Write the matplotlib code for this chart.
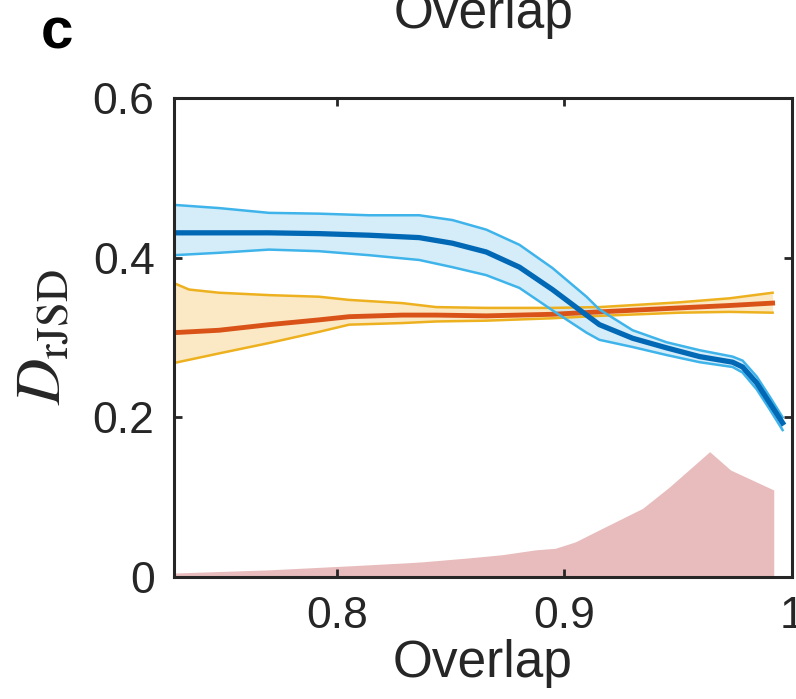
import numpy as np
import matplotlib
matplotlib.use('Agg')
import matplotlib.pyplot as plt

plt.rcParams['font.family'] = ['Liberation Sans', 'DejaVu Sans']
plt.rcParams['mathtext.fontset'] = 'stix'

# blue curve (mean and band)
blue_x = [0.7282, 0.748, 0.770, 0.792, 0.814, 0.8361, 0.8507, 0.8656, 0.8802,
          0.8947, 0.9097, 0.9154, 0.9300, 0.9449, 0.9595, 0.9740, 0.9784,
          0.9846, 0.9903, 0.9960]
blue_mid = [0.431, 0.431, 0.431, 0.430, 0.428, 0.425, 0.418, 0.407, 0.388,
            0.360, 0.328, 0.316, 0.299, 0.287, 0.276, 0.269, 0.263,
            0.243, 0.218, 0.193]
blue_hi = [0.466, 0.462, 0.456, 0.455, 0.453, 0.453, 0.447, 0.435, 0.416,
           0.387, 0.351, 0.335, 0.309, 0.294, 0.284, 0.276, 0.271,
           0.251, 0.226, 0.200]
blue_lo = [0.403, 0.406, 0.410, 0.408, 0.403, 0.397, 0.388, 0.378, 0.362,
           0.334, 0.306, 0.297, 0.288, 0.278, 0.269, 0.263, 0.256,
           0.235, 0.210, 0.184]

# orange curve (mean and band)
org_x = [0.7282, 0.7348, 0.748, 0.770, 0.792, 0.8053, 0.8286, 0.8436, 0.8656,
         0.8947, 0.9154, 0.9507, 0.9727, 0.9916]
org_mid = [0.306, 0.307, 0.309, 0.316, 0.322, 0.326, 0.328, 0.328, 0.327,
           0.329, 0.332, 0.337, 0.340, 0.343]
org_hi = [0.368, 0.360, 0.356, 0.353, 0.351, 0.347, 0.343, 0.338, 0.337,
          0.337, 0.338, 0.344, 0.349, 0.356]
org_lo = [0.268, 0.272, 0.280, 0.293, 0.307, 0.316, 0.318, 0.320, 0.321,
          0.324, 0.327, 0.331, 0.332, 0.331]

# overlap distribution (shaded area at bottom)
dist_x = [0.7282, 0.770, 0.8053, 0.8286, 0.8374, 0.8581, 0.8727, 0.8872, 0.8960,
          0.9048, 0.9167, 0.9344, 0.9463, 0.9639, 0.9731, 0.9921]
dist_y = [0.005, 0.009, 0.014, 0.0175, 0.019, 0.024, 0.028, 0.034, 0.036,
          0.044, 0.061, 0.086, 0.113, 0.157, 0.134, 0.109]

fig = plt.figure(figsize=(7.96, 6.99), dpi=100)
ax = fig.add_axes([0.2186, 0.1745, 0.776, 0.6855])

ax.fill_between(dist_x, 0, dist_y, color='#e8bcbd', lw=0)

ax.fill_between(org_x, org_lo, org_hi, color='#fbe8c4', lw=0)
ax.plot(org_x, org_hi, color='#edb120', lw=1.8)
ax.plot(org_x, org_lo, color='#edb120', lw=1.8)
ax.plot(org_x, org_mid, color='#d95319', lw=3.5)

ax.fill_between(blue_x, blue_lo, blue_hi, color='#bfe3f7', alpha=0.65, lw=0)
ax.plot(blue_x, blue_hi, color='#3fb4ea', lw=1.8)
ax.plot(blue_x, blue_lo, color='#3fb4ea', lw=1.8)
ax.plot(blue_x, blue_mid, color='#0068b5', lw=3.8)

ax.set_xlim(0.7282, 1.0)
ax.set_ylim(0, 0.6)
ax.set_xticks([0.8, 0.9, 1.0])
ax.set_xticklabels(['0.8', '0.9', '1'])
ax.set_yticks([0, 0.2, 0.4, 0.6])
ax.set_yticklabels(['0', '0.2', '0.4', '0.6'])
ax.tick_params(direction='in', length=6, width=2, labelsize=32, pad=14,
               top=True, right=True, colors='#262626')
for s in ax.spines.values():
    s.set_linewidth(2.2)
    s.set_color('#262626')

ax.set_xlabel('Overlap', fontsize=37, color='#262626', labelpad=1)
ax.set_ylabel(r'$D_{\mathrm{rJSD}}$', fontsize=46, color='#262626', labelpad=14)

fig.text(0.607, 0.96, 'Overlap', fontsize=37, ha='center', va='baseline', color='#262626')
fig.text(0.051, 0.931, 'c', fontsize=42, fontweight='bold', ha='left', va='baseline')

fig.savefig('out.png', dpi=100)
